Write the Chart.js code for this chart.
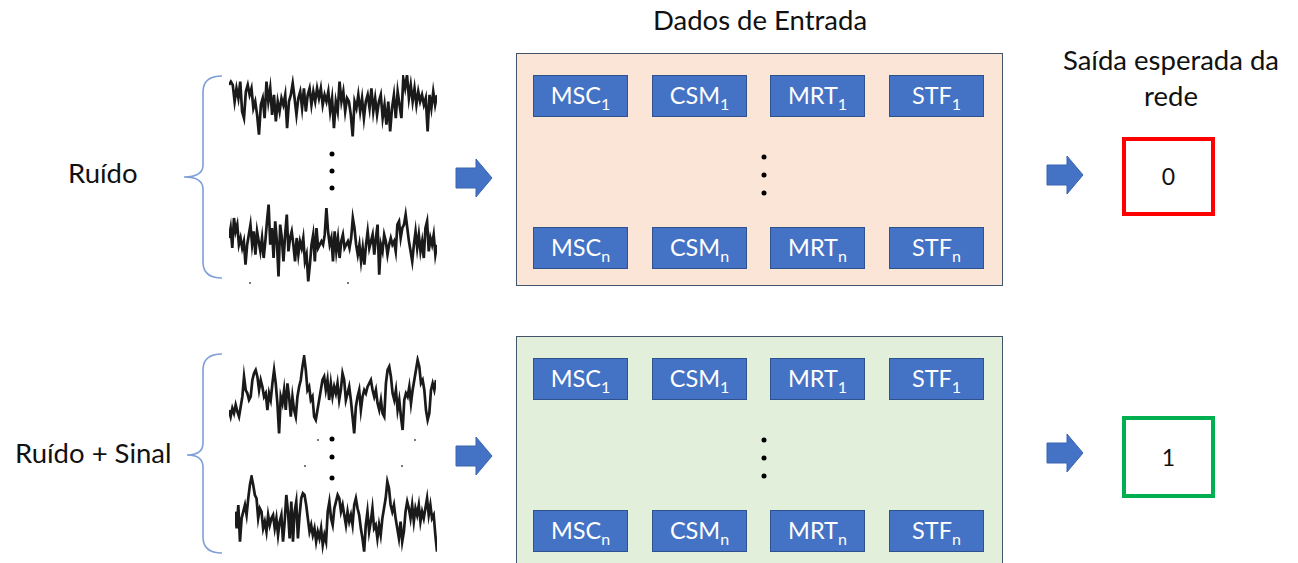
<!DOCTYPE html>
<html>
<head>
<meta charset="utf-8">
<script src="https://cdn.jsdelivr.net/npm/chart.js@4.4.1/dist/chart.umd.min.js"></script>
<style>
  html, body { margin:0; padding:0; background:#fff; }
  body { width:1298px; height:563px; position:relative; overflow:hidden; font-family: Lato, "Open Sans", "Noto Sans", sans-serif; color:#111; }
  .abs { position:absolute; }
  .txt { position:absolute; font-size:27.5px; line-height:1; white-space:nowrap; }
  .panel { position:absolute; box-sizing:border-box; border:1px solid #44546a; }
  .feat { position:absolute; box-sizing:border-box; width:95px; height:42px; background:#4472c4; border:1.5px solid #2f528f;
          color:#fff; font-size:23.5px; line-height:1; display:flex; align-items:center; justify-content:center; }
  .feat span { display:inline-block; white-space:nowrap; transform:translateY(2px); }
  .feat sub { font-size:16px; vertical-align:-6px; line-height:1; }
  .dot { position:absolute; width:5px; height:5px; border-radius:50%; background:#000; transform:translate(-50%,-50%); }
  .tiny { position:absolute; width:2px; height:2px; background:#777; }
  .out { position:absolute; box-sizing:border-box; width:93px; border:4px solid; font-size:23px; line-height:1;
         display:flex; align-items:center; justify-content:center; background:#fff; }
  .wave { position:absolute; }
</style>
</head>
<body>

<div class="txt" style="left:760px; top:6px; transform:translateX(-50%);">Dados de Entrada</div>
<div class="abs" style="left:1171px; top:42px; transform:translateX(-50%); font-size:27.5px; line-height:36px; text-align:center; white-space:nowrap;">Saída esperada da<br>rede</div>
<div class="txt" style="left:68px; top:159px;">Ruído</div>
<div class="txt" style="left:15px; top:439px;">Ruído + Sinal</div>

<div class="panel" style="left:516px; top:53px; width:487px; height:233px; background:#fbe5d6;"></div>
<div class="panel" style="left:516px; top:336px; width:487px; height:240px; background:#e2efda;"></div>

<div id="feats"></div>

<svg class="abs" style="left:0; top:0;" width="1298" height="563">
  <g fill="none" stroke="#7f9fd8" stroke-width="1.6">
    <path d="M222,76 Q203,76 203,92 L203,165 Q203,177 184,177 Q203,177 203,189 L203,262 Q203,278 222,278"/>
    <path d="M222,354 Q203,354 203,370 L203,443 Q203,455 187,455 Q203,455 203,467 L203,537 Q203,553 222,553"/>
  </g>
  <g fill="#4472c4" stroke="#3a64b0" stroke-width="1">
    <path d="M456,168 L476,168 L476,159 L492,178 L476,197 L476,188 L456,188 Z"/>
    <path d="M456,446 L476,446 L476,437 L492,456 L476,475 L476,466 L456,466 Z"/>
    <path d="M1047,165 L1067,165 L1067,156 L1083,175 L1067,194 L1067,185 L1047,185 Z"/>
    <path d="M1047,443 L1067,443 L1067,434 L1083,453 L1067,472 L1067,463 L1047,463 Z"/>
  </g>
</svg>

<div class="out" style="left:1122px; top:137px; height:79px; border-color:#ff0000;">0</div>
<div class="out" style="left:1122px; top:416px; height:82px; border-color:#00b050;">1</div>

<div class="dot" style="left:332px; top:154px;"></div>
<div class="dot" style="left:332px; top:171px;"></div>
<div class="dot" style="left:332px; top:188px;"></div>
<div class="dot" style="left:332px; top:439px;"></div>
<div class="dot" style="left:332px; top:457px;"></div>
<div class="dot" style="left:332px; top:478px;"></div>
<div class="dot" style="left:764px; top:157px;"></div>
<div class="dot" style="left:764px; top:175px;"></div>
<div class="dot" style="left:764px; top:193px;"></div>
<div class="dot" style="left:764px; top:440px;"></div>
<div class="dot" style="left:764px; top:458px;"></div>
<div class="dot" style="left:764px; top:476px;"></div>
<div class="tiny" style="left:249px; top:282px;"></div>
<div class="tiny" style="left:347px; top:282px;"></div>
<div class="tiny" style="left:317px; top:439px;"></div>
<div class="tiny" style="left:414px; top:439px;"></div>
<div class="tiny" style="left:304px; top:465px;"></div>
<div class="tiny" style="left:401px; top:465px;"></div>

<div class="wave" style="left:229px; top:75px; width:208px; height:63px;"><canvas id="w1" width="208" height="63"></canvas></div>
<div class="wave" style="left:229px; top:203px; width:208px; height:80px;"><canvas id="w2" width="208" height="80"></canvas></div>
<div class="wave" style="left:229px; top:355px; width:207px; height:81px;"><canvas id="w3" width="207" height="81"></canvas></div>
<div class="wave" style="left:235px; top:475px; width:202px; height:80px;"><canvas id="w4" width="202" height="80"></canvas></div>

<script>
// ---- Data ----
const features = ["MSC", "CSM", "MRT", "STF"];
const rowIndices = ["1", "n"];
const expectedOutputs = [0, 1];

const noise1 = [60,70,60,10,50,20,70,-20,-40,40,60,30,50,-10,10,-30,-90,0,20,-40,70,10,50,-30,30,-50,10,-20,20,0,30,-70,10,30,65,20,-30,20,40,-10,50,-20,30,50,0,40,10,50,20,50,0,30,10,40,-20,20,-70,10,-20,70,10,40,-20,20,10,-30,-95,10,-10,30,-20,20,-40,10,30,-10,50,-20,20,-30,10,30,-40,0,-60,10,-80,-10,30,-40,40,0,-40,80,50,90,20,60,10,50,0,40,10,30,0,20,-80,30,-10,40,0,30];
const noise2 = [15,45,-15,75,35,55,-5,15,-15,5,-65,-5,25,55,-5,35,-35,35,5,-25,15,-45,5,65,115,-5,45,-45,65,5,-100,55,15,-55,25,85,-25,15,35,-5,-55,15,-35,5,-15,15,-55,-35,-115,-65,-5,25,-55,45,-15,-5,5,-5,25,105,35,-5,15,-55,35,-25,15,-45,5,25,-15,-5,5,-15,15,75,45,-5,-35,-5,-55,-15,-65,-5,35,-15,5,25,-35,15,55,-95,-5,-25,25,5,-35,-5,15,-5,5,-25,55,65,15,45,55,85,45,5,-25,-55,-5,35,-15,25,-25,5,-45,45,65,-25,15,-5,25,-35,-5];
const signal1 = [-40,-60,-35,-50,-25,-45,-60,-30,0,60,20,10,-10,0,50,70,80,60,20,50,30,0,10,-40,10,-10,40,80,40,-20,-110,0,-20,20,-40,40,0,-60,0,-40,-60,0,30,50,90,120,80,20,30,-10,0,-60,-70,-40,-10,20,50,60,20,50,-10,40,0,30,10,40,-10,20,70,50,-10,10,30,-10,-60,-110,-30,0,20,-40,0,20,10,30,40,50,20,0,20,-20,-40,-10,-50,-60,40,80,90,60,10,-10,20,-40,-10,-60,-100,-10,10,0,30,-20,20,50,80,110,90,40,50,20,-40,-70,-50,20,40,20,50];
const signal2 = [10,-40,30,-80,-10,10,30,0,50,90,115,90,60,50,-10,20,10,-40,-20,-50,0,-30,-10,0,-40,-10,-60,-20,0,-80,-20,60,10,-70,40,-80,10,40,-70,0,50,65,60,30,-10,-50,-30,-60,-40,-80,-50,-70,-40,-90,-60,-80,10,40,-10,-30,20,40,60,50,10,30,0,-30,10,-20,0,-30,30,50,20,0,-40,-70,-110,-30,10,-50,-20,20,-40,-30,-70,-30,-60,-10,20,50,100,80,30,10,30,-10,-40,-70,-20,-80,-50,10,40,20,-10,30,-20,20,0,30,-20,10,-10,20,50,0,30,-10,0,-60,-110];

// ---- Feature boxes (layout) ----
const colX = [533, 652, 770, 889];
const rowY = [75, 227, 358, 510];
const featsEl = document.getElementById('feats');
rowY.forEach((y, r) => {
  const idx = rowIndices[r % 2];
  features.forEach((f, c) => {
    const d = document.createElement('div');
    d.className = 'feat';
    d.style.left = colX[c] + 'px';
    d.style.top = y + 'px';
    d.innerHTML = '<span>' + f + '<sub>' + idx + '</sub></span>';
    featsEl.appendChild(d);
  });
});

// ---- Waveforms ----
function wave(id, values, min, max) {
  new Chart(document.getElementById(id), {
    type: 'line',
    data: {
      labels: values.map((_, i) => i),
      datasets: [{ data: values, borderColor: '#1a1a1a', borderWidth: 2.7, pointRadius: 0, tension: 0, fill: false, clip: 6 }]
    },
    options: {
      responsive: false, animation: false,
      layout: { padding: 0 },
      plugins: { legend: { display: false }, tooltip: { enabled: false } },
      events: [],
      scales: {
        x: { display: false, offset: false },
        y: { display: false, min: min, max: max }
      }
    }
  });
}
wave('w1', noise1, -100, 90);
wave('w2', noise2, -120, 120);
wave('w3', signal1, -118, 125);
wave('w4', signal2, -120, 120);
</script>
</body>
</html>
